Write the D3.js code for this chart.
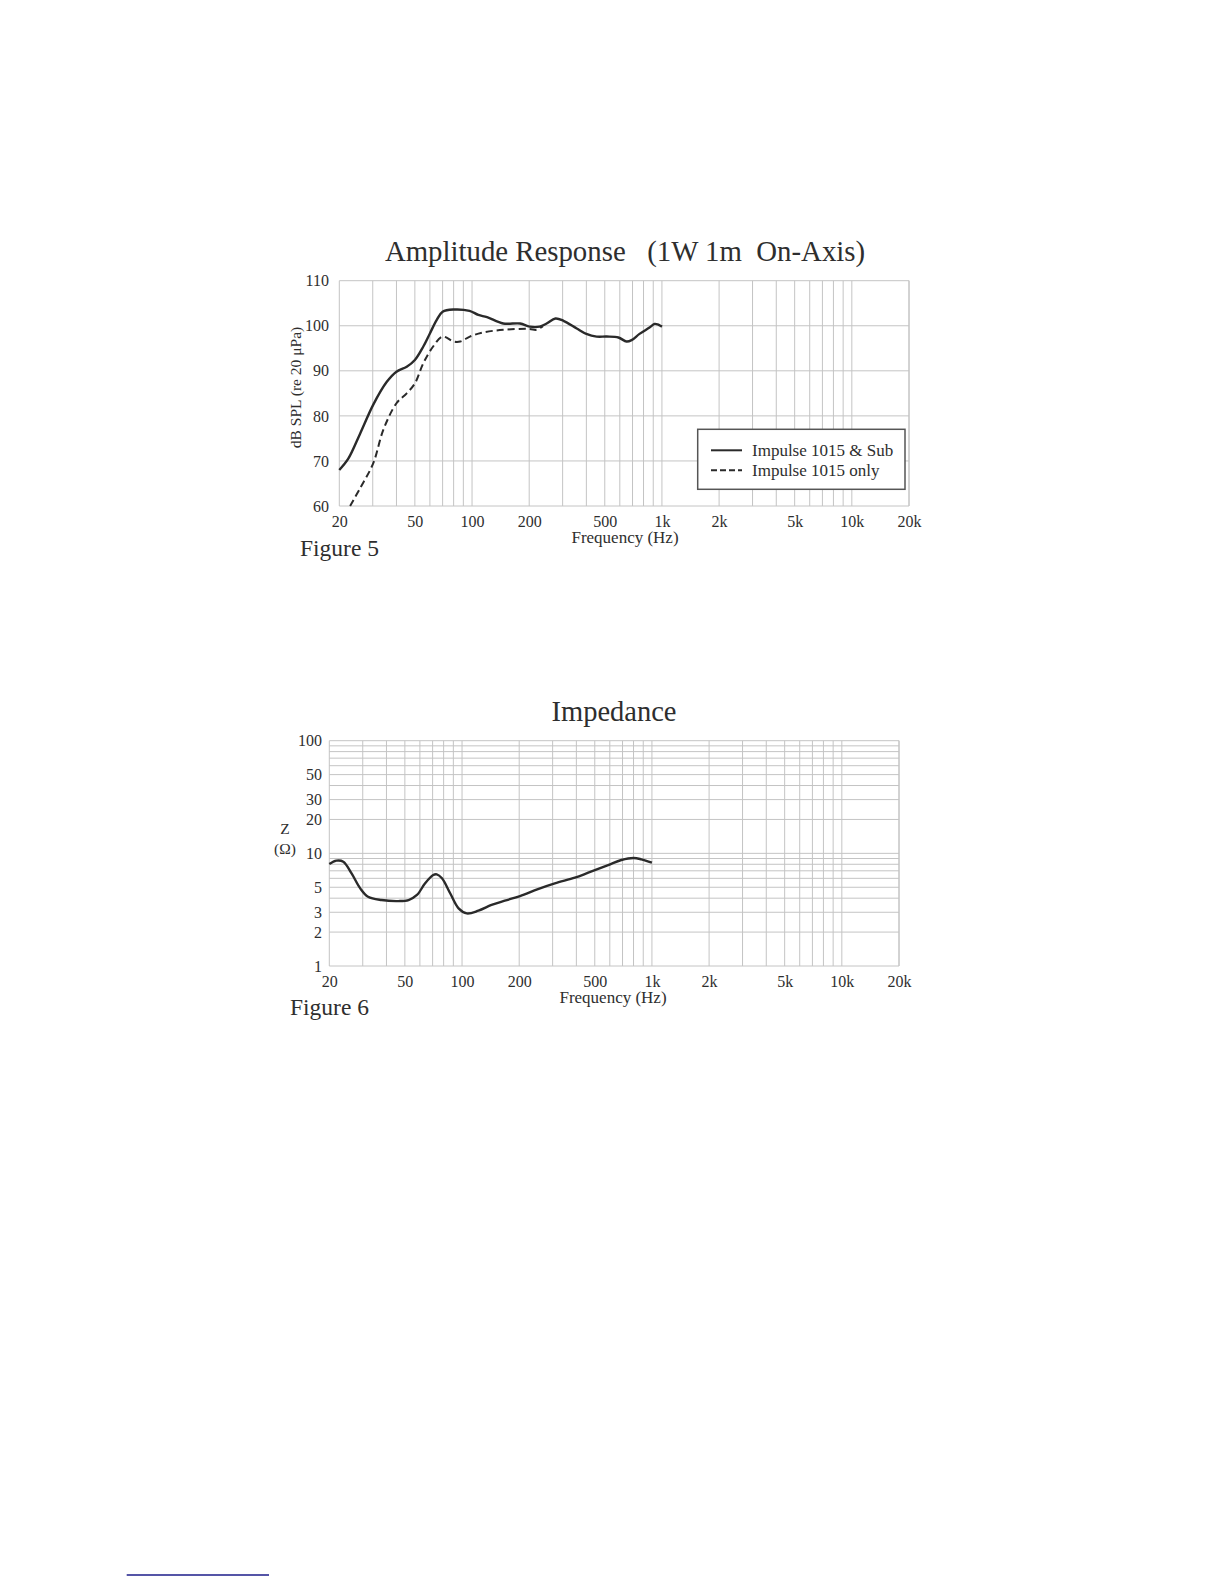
<!DOCTYPE html>
<html>
<head>
<meta charset="utf-8">
<script src="https://cdn.jsdelivr.net/npm/d3@7"></script>
<style>
  body { margin: 0; background: #fff; }
  svg text { font-family: "Liberation Serif", "DejaVu Serif", serif; fill: #2e2e2e; }
</style>
</head>
<body>
<svg id="page" width="1224" height="1584"></svg>
<script>
// Figure 5 - amplitude response
const subFreq = [20, 22.3, 25.7, 30.2, 35.5, 40, 45.3, 50, 55.4, 60, 65.2, 70, 80, 97, 108, 120, 146, 179, 201, 227, 247, 275, 303, 356, 400, 453, 512, 590, 651, 692, 762, 860, 914, 950, 1000];
const subDb = [68.0, 70.5, 76.0, 82.5, 87.5, 89.8, 90.9, 92.4, 95.4, 98.3, 101.3, 103.1, 103.6, 103.3, 102.4, 101.9, 100.5, 100.5, 99.8, 99.8, 100.5, 101.6, 101.1, 99.4, 98.2, 97.6, 97.6, 97.4, 96.5, 96.8, 98.2, 99.6, 100.4, 100.3, 99.8];
const onlyFreq = [22.8, 25.7, 30.2, 34.1, 40, 45.3, 50, 55.4, 62.4, 70, 80, 86.7, 97.4, 114, 146, 201, 218, 236];
const onlyDb = [60, 63.9, 69.5, 76.9, 82.8, 85, 87.2, 91.7, 95.4, 97.6, 96.5, 96.5, 97.6, 98.5, 99.1, 99.3, 99.1, 99.9];
const dbTicks = [60, 70, 80, 90, 100, 110];
const legendLabels = ["Impulse 1015 & Sub", "Impulse 1015 only"];

// Figure 6 - impedance
const zFreq = [20, 21.8, 23.7, 26.2, 29.1, 32, 37.7, 46.2, 52.3, 57.9, 63.9, 70.5, 73.6, 78.4, 86.6, 95.9, 106, 122, 143, 168, 202, 251, 308, 393, 462, 588, 690, 801, 879, 1000];
const zOhm = [8.04, 8.61, 8.43, 6.64, 4.89, 4.12, 3.85, 3.77, 3.85, 4.27, 5.42, 6.42, 6.51, 6.0, 4.42, 3.25, 2.93, 3.10, 3.48, 3.80, 4.18, 4.82, 5.42, 6.08, 6.73, 7.87, 8.73, 9.1, 8.85, 8.26];
const zTicks = [1, 2, 3, 5, 10, 20, 30, 50, 100];

const freqTicks = [20, 50, 100, 200, 500, 1000, 2000, 5000, 10000, 20000];
const fmtFreq = f => f >= 1000 ? (f / 1000) + "k" : String(f);

// every 1..9 multiple between 20 Hz and 20 kHz
const freqGrid = [];
[10, 100, 1000, 10000].forEach(dec => {
  for (let m = 1; m <= 9; m++) {
    const f = dec * m;
    if (f >= 20 && f <= 20000) freqGrid.push(f);
  }
});
freqGrid.push(20000);

const svg = d3.select("#page");
const gridColor = "#c4c4c4";
const inkColor = "#2a2a2a";

function drawGrid(g, x, y, xVals, yVals) {
  const [x0, x1] = x.range();
  const [y0, y1] = y.range();
  g.append("g").selectAll("line").data(xVals).join("line")
    .attr("x1", d => x(d)).attr("x2", d => x(d))
    .attr("y1", y0).attr("y2", y1)
    .attr("stroke", gridColor).attr("stroke-width", 1);
  g.append("g").selectAll("line").data(yVals).join("line")
    .attr("x1", x0).attr("x2", x1)
    .attr("y1", d => y(d)).attr("y2", d => y(d))
    .attr("stroke", gridColor).attr("stroke-width", 1);
}

function drawAxes(g, x, y, yFmt, xLabelY, yLabelX) {
  g.append("g")
    .attr("transform", `translate(0,${xLabelY})`)
    .call(d3.axisBottom(x).tickValues(freqTicks).tickFormat(fmtFreq).tickSize(0).tickPadding(0))
    .call(a => a.select(".domain").remove())
    .selectAll("text")
    .attr("font-size", 16).attr("fill", "#2e2e2e")
    .attr("font-family", "Liberation Serif, serif");
  g.append("g")
    .attr("transform", `translate(${yLabelX},0)`)
    .call(d3.axisLeft(y).tickValues(y.ticksList).tickFormat(yFmt).tickSize(0).tickPadding(0))
    .call(a => a.select(".domain").remove())
    .selectAll("text")
    .attr("font-size", 16).attr("fill", "#2e2e2e")
    .attr("font-family", "Liberation Serif, serif");
}

// ---------- Figure 5 ----------
const x1 = d3.scaleLog().domain([20, 20000]).range([339.3, 909]);
const y1 = d3.scaleLinear().domain([60, 110]).range([506, 280.7]);
y1.ticksList = dbTicks;

const g1 = svg.append("g");
drawGrid(g1, x1, y1, freqGrid, dbTicks);
drawAxes(g1, x1, y1, d => d, 516, 329);

g1.append("text")
  .attr("x", 625).attr("y", 261)
  .attr("text-anchor", "middle")
  .attr("font-size", 28.8)
  .style("white-space", "pre")
  .text("Amplitude Response   (1W 1m  On-Axis)");

g1.append("text")
  .attr("transform", "translate(301,387.5) rotate(-90)")
  .attr("text-anchor", "middle")
  .attr("font-size", 15.5)
  .text("dB SPL (re 20 \u03bcPa)");

g1.append("text")
  .attr("x", 625).attr("y", 543)
  .attr("text-anchor", "middle")
  .attr("font-size", 17)
  .text("Frequency (Hz)");

g1.append("text")
  .attr("x", 300).attr("y", 556)
  .attr("font-size", 23.5)
  .text("Figure 5");

const line1 = d3.line()
  .x(d => x1(d[0]))
  .y(d => y1(d[1]))
  .curve(d3.curveCatmullRom.alpha(0.5));

g1.append("path")
  .datum(onlyFreq.map((f, i) => [f, onlyDb[i]]))
  .attr("d", line1)
  .attr("fill", "none")
  .attr("stroke", inkColor)
  .attr("stroke-width", 2)
  .attr("stroke-dasharray", "7,4");

g1.append("path")
  .datum(subFreq.map((f, i) => [f, subDb[i]]))
  .attr("d", line1)
  .attr("fill", "none")
  .attr("stroke", inkColor)
  .attr("stroke-width", 2.4);

// legend
const lg = g1.append("g");
lg.append("rect")
  .attr("x", 697.7).attr("y", 429.3)
  .attr("width", 207.3).attr("height", 60)
  .attr("fill", "#fff")
  .attr("stroke", "#555").attr("stroke-width", 1.5);
legendLabels.forEach((t, i) => {
  const ly = 450.3 + i * 20;
  lg.append("line")
    .attr("x1", 711).attr("x2", 742)
    .attr("y1", ly).attr("y2", ly)
    .attr("stroke", inkColor).attr("stroke-width", 2)
    .attr("stroke-dasharray", i === 0 ? null : "6,3");
  lg.append("text")
    .attr("x", 752).attr("y", ly + 5.5)
    .attr("font-size", 17)
    .text(t);
});

// ---------- Figure 6 ----------
const x2 = d3.scaleLog().domain([20, 20000]).range([329.3, 899]);
const y2 = d3.scaleLog().domain([1, 100]).range([966, 740.7]);
y2.ticksList = zTicks;

const zGrid = [];
[1, 10].forEach(dec => { for (let m = 1; m <= 9; m++) zGrid.push(dec * m); });
zGrid.push(100);

const g2 = svg.append("g");
drawGrid(g2, x2, y2, freqGrid, zGrid);
drawAxes(g2, x2, y2, d => d, 976, 322);

g2.append("text")
  .attr("x", 614).attr("y", 720.7)
  .attr("text-anchor", "middle")
  .attr("font-size", 28.5)
  .text("Impedance");

g2.append("text")
  .attr("x", 285).attr("y", 833.5)
  .attr("text-anchor", "middle")
  .attr("font-size", 15.5)
  .text("Z");
g2.append("text")
  .attr("x", 285).attr("y", 853.5)
  .attr("text-anchor", "middle")
  .attr("font-size", 15.5)
  .text("(\u03a9)");

g2.append("text")
  .attr("x", 613).attr("y", 1003)
  .attr("text-anchor", "middle")
  .attr("font-size", 17)
  .text("Frequency (Hz)");

g2.append("text")
  .attr("x", 290).attr("y", 1015)
  .attr("font-size", 23.5)
  .text("Figure 6");

const line2 = d3.line()
  .x(d => x2(d[0]))
  .y(d => y2(d[1]))
  .curve(d3.curveCatmullRom.alpha(0.5));

g2.append("path")
  .datum(zFreq.map((f, i) => [f, zOhm[i]]))
  .attr("d", line2)
  .attr("fill", "none")
  .attr("stroke", inkColor)
  .attr("stroke-width", 2.4);

// footnote rule
svg.append("line")
  .attr("x1", 126.7).attr("x2", 269)
  .attr("y1", 1575).attr("y2", 1575)
  .attr("stroke", "#1c1c8a").attr("stroke-width", 1.5);
</script>
</body>
</html>
